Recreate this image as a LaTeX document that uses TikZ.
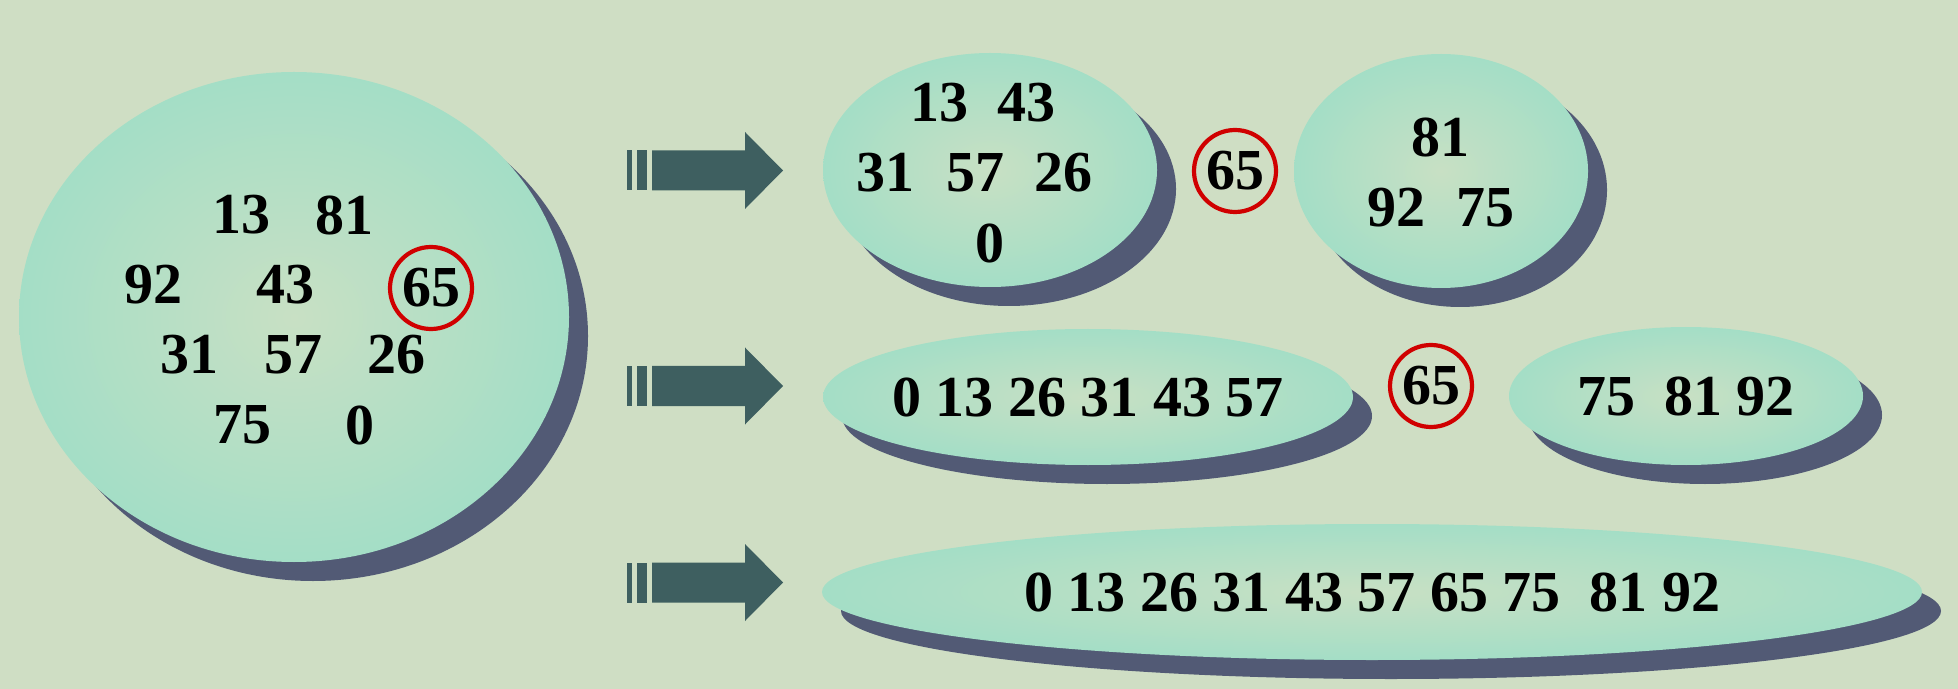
\documentclass[tikz,border=0pt]{standalone}
\usepackage{fontspec}
\setmainfont{Liberation Serif}
\usetikzlibrary{shapes.geometric, shadows}
\definecolor{bgc}{RGB}{207,222,196}
\definecolor{blobin}{RGB}{200,224,196}
\definecolor{blobout}{RGB}{164,222,198}
\definecolor{shadec}{RGB}{82,90,117}
\definecolor{arrowc}{RGB}{62,95,96}
\definecolor{ringred}{RGB}{208,0,0}

\begin{document}
\begin{tikzpicture}[x=0.5pt, y=-0.5pt,
    blob/.style={ellipse, inner sep=0, inner color=blobin, outer color=blobout,
        general shadow={fill=shadec, shadow xshift=9.5pt, shadow yshift=-9.5pt}},
    num/.style={font=\fontsize{29}{34}\selectfont\bfseries, inner sep=0},
    ring/.style={circle, draw=ringred, line width=2.1pt, minimum size=41pt, inner sep=0,
        font=\fontsize{29}{34}\selectfont\bfseries}]
    \fill[bgc] (0,0) rectangle (1958,689);

    % start set
    \node (all) [blob, minimum width=275pt, minimum height=245pt] at (294,317) {};
    \foreach \n/\x/\y in {13/241/215, 81/344/215, 92/153/285, 43/285/285,
        31/189/355, 57/293/355, 26/396/355, 75/242/425, 0/360/425}
        \node (a\n) [num] at (\x,\y) {\n};
    \node (p0) [ring] at (431,288) {65};

    % first split
    \node (lo1) [blob, minimum width=167pt, minimum height=117pt] at (990,170) {};
    \foreach \n/\x/\y in {13/939/103, 43/1026/103, 31/885/173, 57/975/173,
        26/1063/173, 0/990/243}
        \node (l\n) [num] at (\x,\y) {\n};
    \node (p1) [ring] at (1235,171) {65};
    \node (hi1) [blob, minimum width=147pt, minimum height=117pt] at (1441,171) {};
    \foreach \n/\x/\y in {81/1440/138, 92/1396/208, 75/1485/208}
        \node (h\n) [num] at (\x,\y) {\n};

    % sorted halves
    \node (lo2) [blob, minimum width=265pt, minimum height=68pt] at (1088,397) {};
    \node (lo2t) [num] at (lo2.center) {0 13 26 31 43 57};
    \node (p2) [ring] at (1431,386) {65};
    \node (hi2) [blob, minimum width=177pt, minimum height=69pt] at (1686,396) {};
    \node (hi2t) [num] at (hi2.center) {75\ \ 81 92};

    % result
    \node (done) [blob, minimum width=550pt, minimum height=68pt] at (1372,592) {};
    \node (donet) [num] at (done.center) {0 13 26 31 43 57 65 75\ \ 81 92};

    \foreach \y in {170.5, 386, 582.5} {
        \fill[arrowc] (627,\y-20) rectangle (632,\y+20);
        \fill[arrowc] (637,\y-20) rectangle (647,\y+20);
        \fill[arrowc] (652,\y-20) -- (745,\y-20) -- (745,\y-38.5) -- (783,\y)
            -- (745,\y+38.5) -- (745,\y+20) -- (652,\y+20) -- cycle;
    }
\end{tikzpicture}
\end{document}
